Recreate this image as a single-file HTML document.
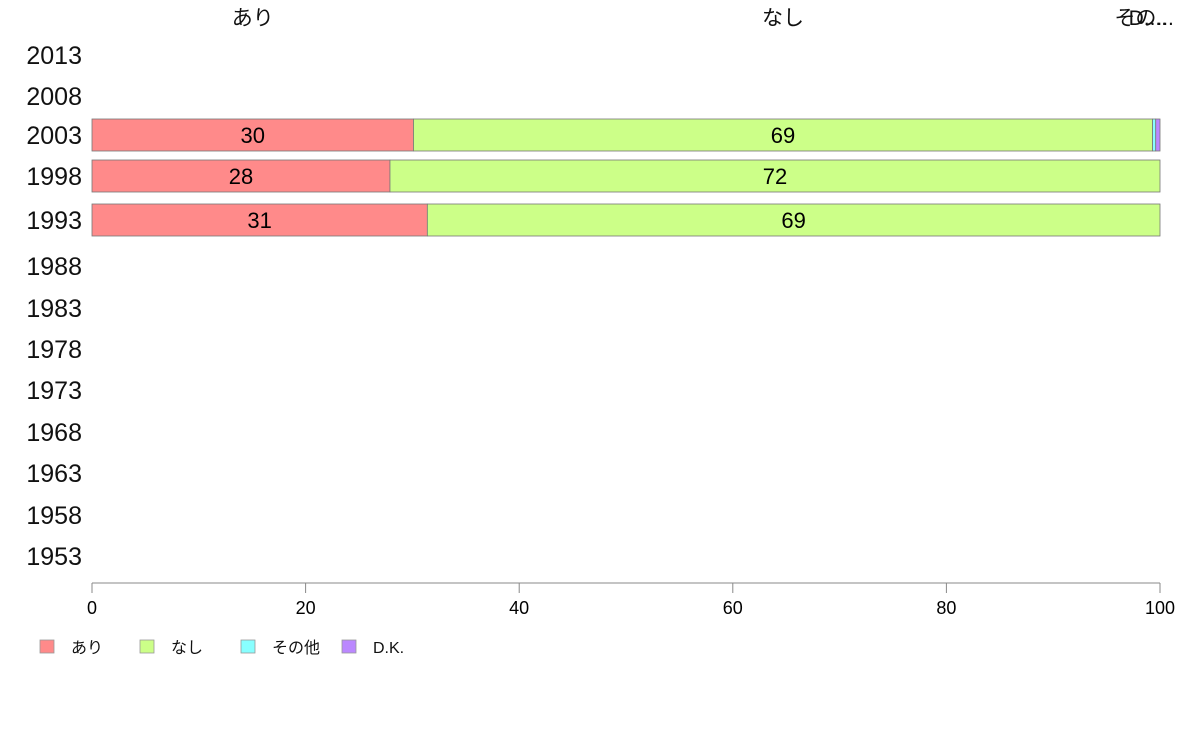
<!DOCTYPE html>
<html><head><meta charset="utf-8"><style>
body{margin:0;background:#fff;}
svg text{font-family:"Liberation Sans","Noto Sans CJK JP",sans-serif;}
</style></head><body>
<svg id="c" width="1188" height="736" xmlns="http://www.w3.org/2000/svg"></svg>
<script>
const years=[2013,2008,2003,1998,1993,1988,1983,1978,1973,1968,1963,1958,1953];
const yearCenters=[55,96,135,176,220,266,308,349,390,432,473,515,556];
const seriesNames=["あり","なし","その他","D.K."];
const colors=["#ff8a8a","#ccff88","#88ffff","#bb88ff"];
const ariValues=[null,null,30.1,27.9,31.4,null,null,null,null,null,null,null,null];
const nashiValues=[null,null,69.2,72.1,68.6,null,null,null,null,null,null,null,null];
const otherValues=[null,null,0.3,0,0,null,null,null,null,null,null,null,null];
const dkValues=[null,null,0.4,0,0,null,null,null,null,null,null,null,null];
const xTicks=[0,20,40,60,80,100];
const NS="http://www.w3.org/2000/svg";
const svg=document.getElementById("c");
const x=v=>92+v*10.68;
function mk(t,a,txt){const e=document.createElementNS(NS,t);for(const k in a)e.setAttribute(k,a[k]);if(txt!==undefined)e.textContent=txt;svg.appendChild(e);return e;}
const series=[ariValues,nashiValues,otherValues,dkValues];
years.forEach((yr,i)=>{
  const cy=yearCenters[i];
  const t=mk("text",{x:82,y:cy+9,"text-anchor":"end","font-size":25,fill:"#111"},yr);
  
  
  if(ariValues[i]===null)return;
  let acc=0;
  series.forEach((s,k)=>{
    const v=s[i];if(!v)return;
    const r=mk("rect",{x:x(acc),y:cy-16,width:x(acc+v)-x(acc),height:32,fill:colors[k],stroke:"#777","stroke-width":0.8});
    
    
    if(v>=5){
      const l=mk("text",{x:(x(acc)+x(acc+v))/2,y:cy+8,"text-anchor":"middle","font-size":22,fill:"#000"},Math.round(v));
      
      
    }
    acc+=v;
  });
});
// top category labels from first available bar (2003)
const ri=ariValues.findIndex(v=>v!==null);
let acc=0;
const topLabels=["あり","なし","その...","D...."];
series.forEach((s,k)=>{
  const v=s[ri];
  const cx=(x(acc)+x(acc+v))/2;
  const t=mk("text",{x:k>=2?cx-10:cx,y:25,"text-anchor":"middle","font-size":21,fill:"#111"},topLabels[k]);
  
  
  acc+=v;
});
const ax=mk("line",{x1:x(0),x2:x(100),y1:583,y2:583,stroke:"#888","stroke-width":1});


xTicks.forEach(v=>{
  const tk=mk("line",{x1:x(v),x2:x(v),y1:583,y2:593,stroke:"#888","stroke-width":1});
  
  
  const tl=mk("text",{x:x(v),y:614,"text-anchor":"middle","font-size":18,fill:"#000"},v);
  
  
});
const legX=[40,140,241,342];
seriesNames.forEach((n,k)=>{
  const r=mk("rect",{x:legX[k],y:640,width:14,height:13,fill:colors[k],stroke:"#999","stroke-width":0.8});
  
  
  const t=mk("text",{x:legX[k]+31,y:653,"font-size":16,fill:"#111"},n);
  
  
});
</script>
</body></html>
